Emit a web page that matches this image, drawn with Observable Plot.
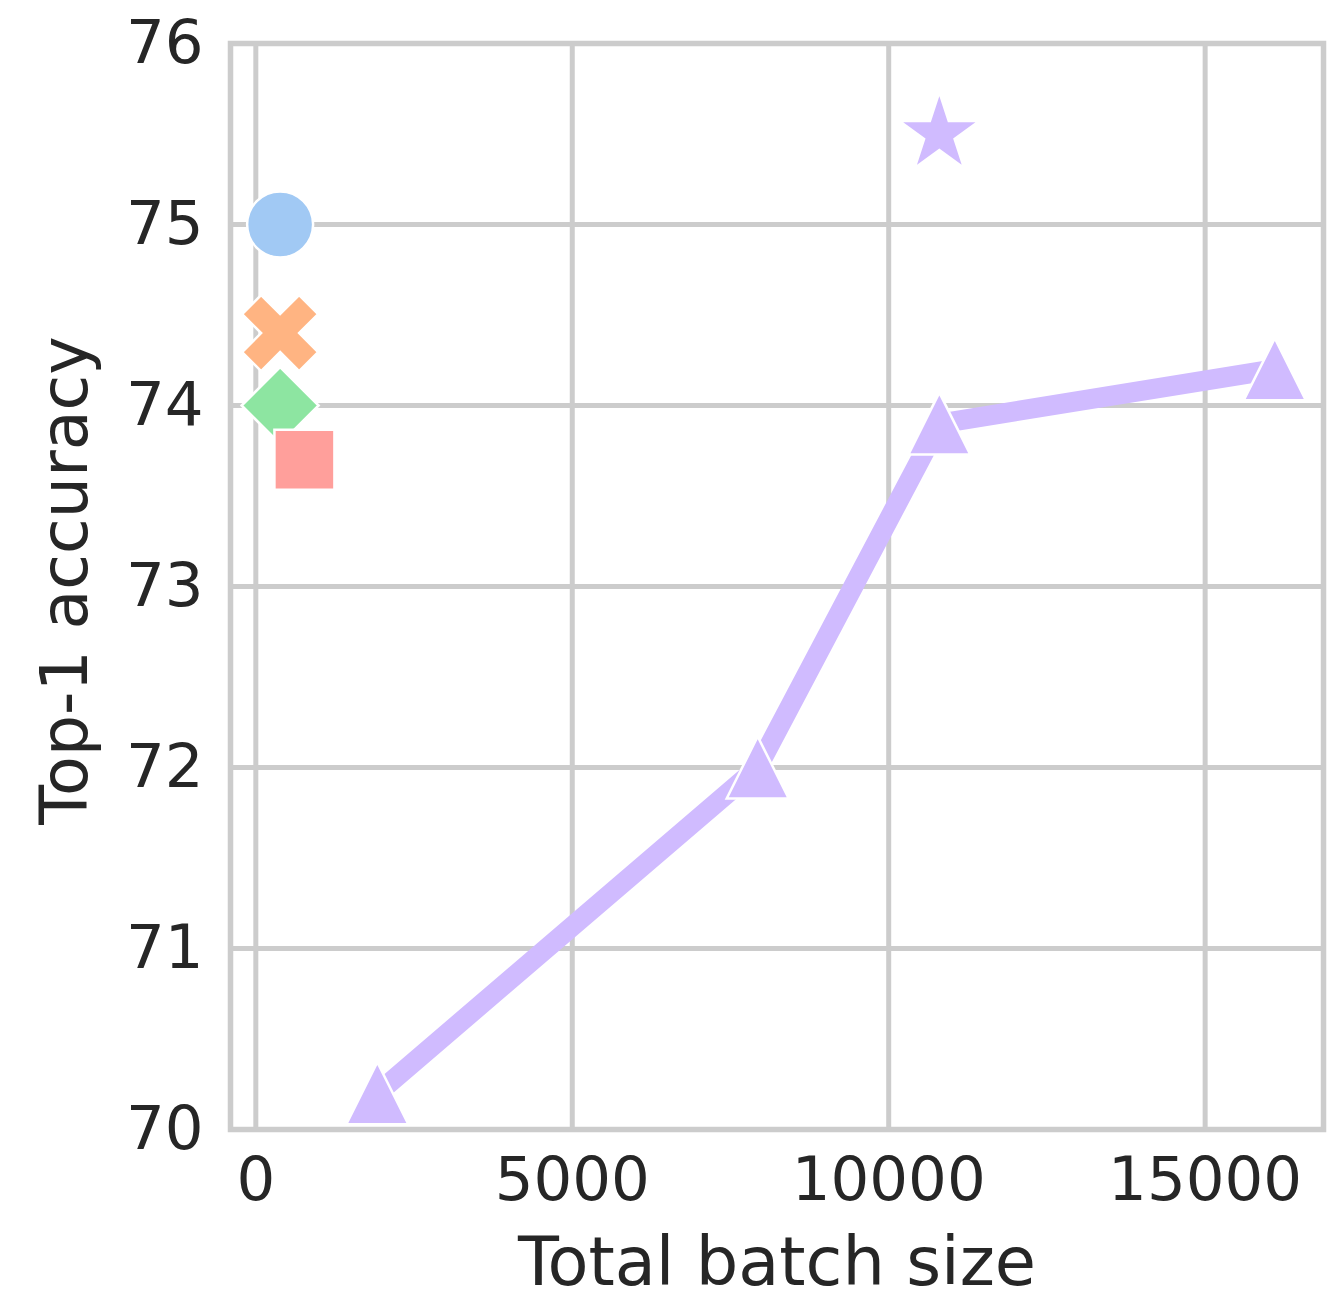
<!DOCTYPE html>
<html><head><meta charset="utf-8">
<script src="https://cdn.jsdelivr.net/npm/d3@7"></script>
<script src="https://cdn.jsdelivr.net/npm/@observablehq/plot@0.6"></script>
<style>
html,body{margin:0;padding:0;background:#fff;}
</style>
</head><body><div id="chart"></div>
<script>
// ---- data ----
const xTicks = [0, 5000, 10000, 15000];
const yTicks = [70, 71, 72, 73, 74, 75, 76];
const xLabel = "Total batch size";
const yLabel = "Top-1 accuracy";

const circleBatch = [384];   const circleAcc = [75.0];
const crossBatch = [384];    const crossAcc = [74.4];
const diamondBatch = [384];  const diamondAcc = [74.0];
const squareBatch = [768];   const squareAcc = [73.7];
const lineBatch = [1920, 7930, 10800, 16100];
const lineAcc = [70.2, 72.0, 73.9, 74.2];
const starBatch = [10800];   const starAcc = [75.5];

const rows = (xs, ys) => xs.map((x, i) => ({x, y: ys[i]}));

// ---- matplotlib-like marker shapes ----
const R = size => Math.sqrt(size / Math.PI);
const poly = (ctx, pts) => { ctx.moveTo(pts[0][0], pts[0][1]); for (let k = 1; k < pts.length; k++) ctx.lineTo(pts[k][0], pts[k][1]); ctx.closePath(); };
const symX = {draw(ctx, size) {
  const r = R(size), s = r / (2 * Math.SQRT2);
  const plus = [[-1,-3],[1,-3],[1,-1],[3,-1],[3,1],[1,1],[1,3],[-1,3],[-1,1],[-3,1],[-3,-1],[-1,-1]];
  poly(ctx, plus.map(([px, py]) => [s * (px - py) / Math.SQRT2, s * (px + py) / Math.SQRT2]));
}};
const symDiamond = {draw(ctx, size) { const r = R(size); poly(ctx, [[0,-r],[r,0],[0,r],[-r,0]]); }};
const symSquare = {draw(ctx, size) { const r = R(size); poly(ctx, [[-r,-r],[r,-r],[r,r],[-r,r]]); }};
const symTri = {draw(ctx, size) { const r = R(size); poly(ctx, [[0,-r],[r,r],[-r,r]]); }};
const symStar = {draw(ctx, size) {
  const r = R(size), ri = r * 0.381966, pts = [];
  for (let k = 0; k < 10; k++) { const a = -Math.PI / 2 + k * Math.PI / 5, rr = k % 2 ? ri : r; pts.push([rr * Math.cos(a), rr * Math.sin(a)]); }
  poly(ctx, pts);
}};

const grid = "#cccccc";
const edge = {stroke: "#ffffff", strokeWidth: 2.5};

const chart = Plot.plot({
  width: 1327, height: 1302,
  marginLeft: 230, marginRight: 4, marginTop: 43, marginBottom: 173,
  x: {domain: [-400, 16870]},
  y: {domain: [70, 76]},
  style: {fontFamily: '"DejaVu Sans", sans-serif', background: "#ffffff", color: "#262626"},
  marks: [
    Plot.gridX(xTicks, {stroke: grid, strokeOpacity: 1, strokeWidth: 5}),
    Plot.gridY(yTicks, {stroke: grid, strokeOpacity: 1, strokeWidth: 5}),
    Plot.frame({stroke: grid, strokeWidth: 5.5}),
    Plot.axisX(xTicks, {tickSize: 0, tickPadding: 27, fontSize: 61, label: null, tickFormat: d => String(d)}),
    Plot.axisY(yTicks, {tickSize: 0, tickPadding: 27, fontSize: 61, label: null, tickFormat: d => String(d)}),
    Plot.text([xLabel], {text: d => d, frameAnchor: "bottom", dx: 0, dy: 134, fontSize: 67, textAnchor: "middle", lineAnchor: "middle", fill: "#262626"}),
    Plot.text([yLabel], {text: d => d, frameAnchor: "left", dx: -164, dy: -6, rotate: -90, fontSize: 65, textAnchor: "middle", lineAnchor: "middle", fill: "#262626"}),
    Plot.dot(rows(circleBatch, circleAcc), {x: "x", y: "y", r: 33, symbol: "circle", fill: "#a1c9f4", ...edge}),
    Plot.dot(rows(crossBatch, crossAcc), {x: "x", y: "y", r: 38, symbol: symX, fill: "#ffb482", ...edge}),
    Plot.dot(rows(diamondBatch, diamondAcc), {x: "x", y: "y", r: 38.5, symbol: symDiamond, fill: "#8de5a1", ...edge}),
    Plot.dot(rows(squareBatch, squareAcc), {x: "x", y: "y", r: 30, symbol: symSquare, fill: "#ff9f9b", ...edge}),
    Plot.line(rows(lineBatch, lineAcc), {x: "x", y: "y", stroke: "#d0bbff", strokeWidth: 20, strokeLinejoin: "round"}),
    Plot.dot(rows(lineBatch, lineAcc), {x: "x", y: "y", r: 31, symbol: symTri, fill: "#d0bbff", ...edge}),
    Plot.dot(rows(starBatch, starAcc), {x: "x", y: "y", r: 42, symbol: symStar, fill: "#d0bbff", ...edge})
  ]
});
document.getElementById("chart").appendChild(chart);
</script>
</body></html>
